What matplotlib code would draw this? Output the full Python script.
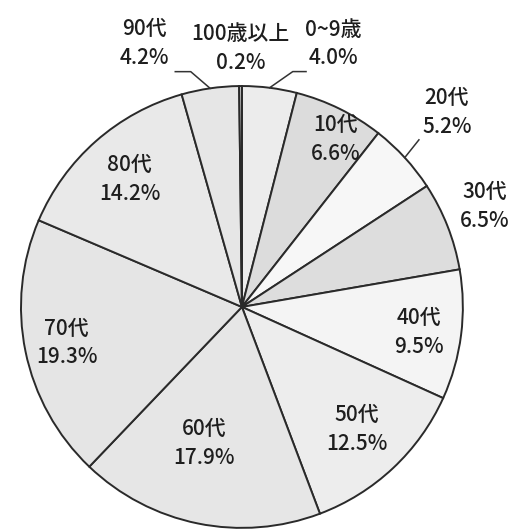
import numpy as np
import matplotlib
matplotlib.use("Agg")
import matplotlib.pyplot as plt

plt.rcParams["font.family"] = ["Noto Sans CJK JP", "DejaVu Sans"]

labels = ["0~9歳", "10代", "20代", "30代", "40代", "50代", "60代", "70代", "80代", "90代", "100歳以上"]
shares = [4.0, 6.6, 5.2, 6.5, 9.5, 12.5, 17.9, 19.3, 14.2, 4.2, 0.2]
colors = ["#ececec", "#dcdcdc", "#f7f7f7", "#dddddd", "#f4f4f4", "#ededed",
          "#e6e6e6", "#e5e5e5", "#e9e9e9", "#e6e6e6", "#e0e0e0"]

# label placement: radius (fraction of pie radius) and angle shift from wedge middle
LABEL_R = [1.26, 0.87, 1.28, 1.19, 0.81, 0.76, 0.64, 0.81, 0.77, 1.27, 1.17]
LABEL_DANG = [-12, -3, 1, 1, -1, 0, -4, 0, 0, 12, 0]
LEADERS = {0: 1.09, 2: 1.06, 9: 1.09}   # labels with a leader line (elbow radius)

fig = plt.figure(figsize=(5.12, 5.32), dpi=100)
ax = fig.add_axes([0.041, 0.0075, 0.863, 0.831])
wedges, _ = ax.pie(shares, colors=colors, startangle=90, counterclock=False,
                   wedgeprops=dict(edgecolor="#2a2a2a", linewidth=1.4))
ax.set_xlim(-1, 1); ax.set_ylim(-1, 1)
ax.set_aspect("equal")

for i, (w, lab, v) in enumerate(zip(wedges, labels, shares)):
    mid = (w.theta1 + w.theta2) / 2
    ang = np.deg2rad(mid + LABEL_DANG[i])
    r = LABEL_R[i]
    ax.text(r * np.cos(ang), r * np.sin(ang), f"{lab}\n{v:.1f}%", ha="center", va="center",
            fontsize=15, fontweight="medium", color="#1e1e1e", linespacing=1.4, clip_on=False)
    if i in LEADERS:
        m = np.deg2rad(mid)
        rr = LEADERS[i]
        p0 = (np.cos(m), np.sin(m))
        if i == 2:
            p1 = (rr * np.cos(m) + 0.02, rr * np.sin(m) + 0.04)
            ax.plot([p0[0], p1[0]], [p0[1], p1[1]], color="#333333", lw=1.1, clip_on=False)
        else:
            e = np.deg2rad(mid + (4 if i == 9 else -5))
            p1 = (rr * np.cos(e), rr * np.sin(e))
            p2 = (p1[0] + (-0.07 if i == 9 else 0.06), p1[1])
            ax.plot([p0[0], p1[0], p2[0]], [p0[1], p1[1], p2[1]], color="#333333", lw=1.1,
                    clip_on=False)

fig.savefig("out.png", dpi=100, facecolor="white")
